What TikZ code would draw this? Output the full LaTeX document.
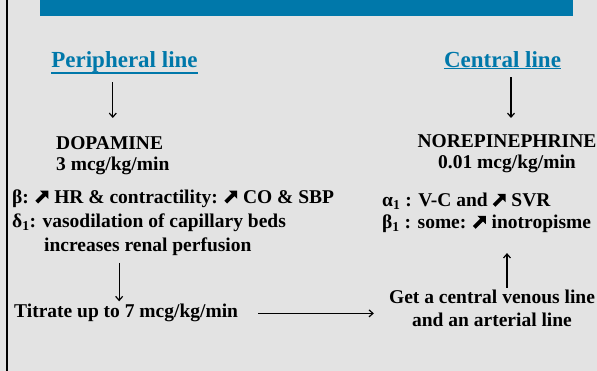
\documentclass[tikz,border=0pt]{standalone}
\usepackage{fontspec}
\setmainfont{Liberation Serif}
\usetikzlibrary{arrows.meta}
\definecolor{slideblue}{RGB}{0,120,170}
\definecolor{slidegray}{RGB}{227,227,227}
% heavy north-east arrow, as in the slide
\newcommand{\risearrow}{\mbox{\tikz[baseline=0pt, x=0.66em, y=0.66em]
    \fill (0.206,-0.006) -- (0.781,0.569) -- (1,0.35) -- (1,1) -- (0.35,1) -- (0.569,0.781) -- (-0.006,0.206) -- cycle;}\hspace{0.3em}}
\tikzset{
  txt/.style={inner sep=0pt, font=\bfseries\fontsize{19.5}{22}\selectfont},
  head/.style={inner sep=0pt, text=slideblue, font=\bfseries\fontsize{23}{26}\selectfont},
  flow/.style={-{Straight Barb[length=4pt,width=7pt]}, line width=1.2pt},
}
\begin{document}
\begin{tikzpicture}[x=1pt,y=-1pt]
        % slide background, left frame and title bar
        \clip (0,0) rectangle (597,371);
        \fill[slidegray] (0,0) rectangle (597,371);
        \draw[line width=2pt] (7,0) -- (7,371);
        \fill[slideblue] (40,0) rectangle (573,16);

        % Column headings (underlined)
        \node[head, anchor=base] (periph) at (124.5,68) {Peripheral line};
        \node[head, anchor=base] (central) at (502.5,68) {Central line};
        \draw[slideblue, line width=1.2pt] (periph.south west) -- (periph.south east);
        \draw[slideblue, line width=1.2pt] (central.south west) -- (central.south east);

        % Peripheral side
        \node[txt, anchor=north west, align=left] (dopa) at (56,136) {DOPAMINE\\[-1pt]3 mcg/kg/min};
        \node[txt, anchor=north west, align=left] (effdopa) at (12,189.5)
            {β: \risearrow HR \& contractility: \risearrow CO \& SBP\\[2pt]
             δ\textsubscript{1}: vasodilation of capillary beds\\[2pt]
             \hspace*{32pt}increases renal perfusion};
        \node[txt, anchor=base west] (titr) at (14,318) {Titrate up to 7 mcg/kg/min};

        % Central side
        \node[txt, anchor=north, align=center] (norepi) at (507,134) {NOREPINEPHRINE\\[-1pt]0.01 mcg/kg/min};
        \node[txt, anchor=north west, align=left] (effnor) at (382,193)
            {α\textsubscript{1} : V-C and \risearrow SVR\\
             β\textsubscript{1} : some: \risearrow inotropisme};
        \node[txt, anchor=north, align=center] (getline) at (492,290)
            {Get a central venous line\\[1pt]and an arterial line};

        % Arrows
        \draw[flow] ([yshift=-9pt]periph.south -| dopa.north) -- ([yshift=18pt]dopa.north);
        \draw[flow] ([yshift=-9pt,xshift=4pt]central.south -| norepi.north) -- ([yshift=16pt,xshift=4pt]norepi.north);
        \draw[flow] ([xshift=-7pt,yshift=-7pt]titr.north |- effdopa.south) -- ([xshift=-7pt,yshift=3pt]titr.north);
        \draw[flow] ([xshift=20pt]titr.east) -- ([xshift=-15pt]titr.east -| getline.west);
        \draw[flow] ([yshift=2pt]getline.north -| norepi.south) -- ([yshift=-20pt]norepi.south |- effnor.south);
    \end{tikzpicture}
\end{document}
